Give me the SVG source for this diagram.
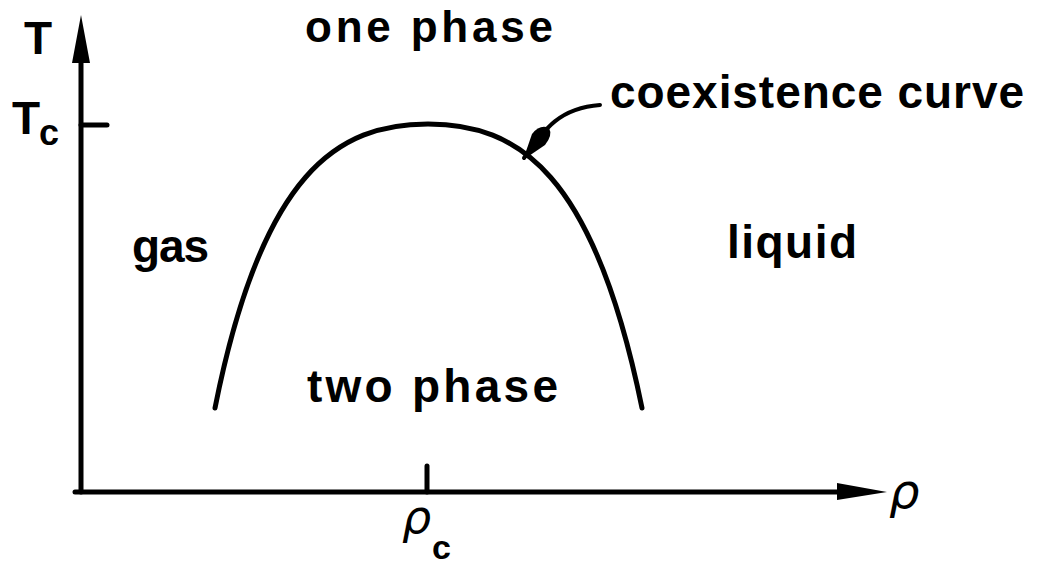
<svg xmlns="http://www.w3.org/2000/svg" width="1039" height="565" viewBox="0 0 1039 565">
<style>
.ln{fill:none;stroke:#000;stroke-width:5;stroke-linecap:round}
.lb{font-family:"Liberation Sans",Arial,sans-serif;font-weight:bold;font-size:46px;fill:#000}
.sym{font-family:"DejaVu Sans","Liberation Sans",sans-serif;font-style:italic;fill:#000}
</style>
<rect width="1039" height="565" fill="#fff"/>
<g id="axes">
  <line class="ln" x1="81" y1="50" x2="81" y2="492"/>
  <polygon points="81,15 90,63 72,63" fill="#000"/>
  <line class="ln" x1="75" y1="492" x2="850" y2="492"/>
  <polygon points="887,492 837,483 837,500" fill="#000"/>
  <line class="ln" x1="81" y1="125" x2="107" y2="125"/>
  <line class="ln" x1="427" y1="466" x2="427" y2="492"/>
</g>
<g id="curve">
  <path class="ln" d="M215,408 C262,172 338,124 428,124 C518,124 594,172 642,408"/>
</g>
<g id="connectors">
  <path class="ln" d="M524,158 C545,128 560,108 600,105" style="stroke-width:4"/>
  <path d="M523,160 L532,134 Q540,124 549,128 Q553,135 545,145 Z" fill="#000"/>
</g>
<g id="labels">
  <text class="lb" x="305" y="42" style="font-size:44px" textLength="248" lengthAdjust="spacing">one phase</text>
  <text class="lb" x="610" y="108" textLength="414" lengthAdjust="spacing">coexistence curve</text>
  <text class="lb" x="132" y="262" textLength="77" lengthAdjust="spacing">gas</text>
  <text class="lb" x="727" y="258" textLength="130" lengthAdjust="spacing">liquid</text>
  <text class="lb" x="307" y="402" textLength="251" lengthAdjust="spacing">two phase</text>
  <text class="lb" x="24" y="54">T</text>
  <text class="lb" x="12" y="134">T</text>
  <text class="lb" x="39" y="145" style="font-size:36px">c</text>
  <text class="sym" x="889" y="508" style="font-size:48px">ρ</text>
  <text class="sym" x="402" y="533" style="font-size:46px">ρ</text>
  <text class="lb" x="432" y="559" style="font-size:34px">c</text>
</g>
</svg>
